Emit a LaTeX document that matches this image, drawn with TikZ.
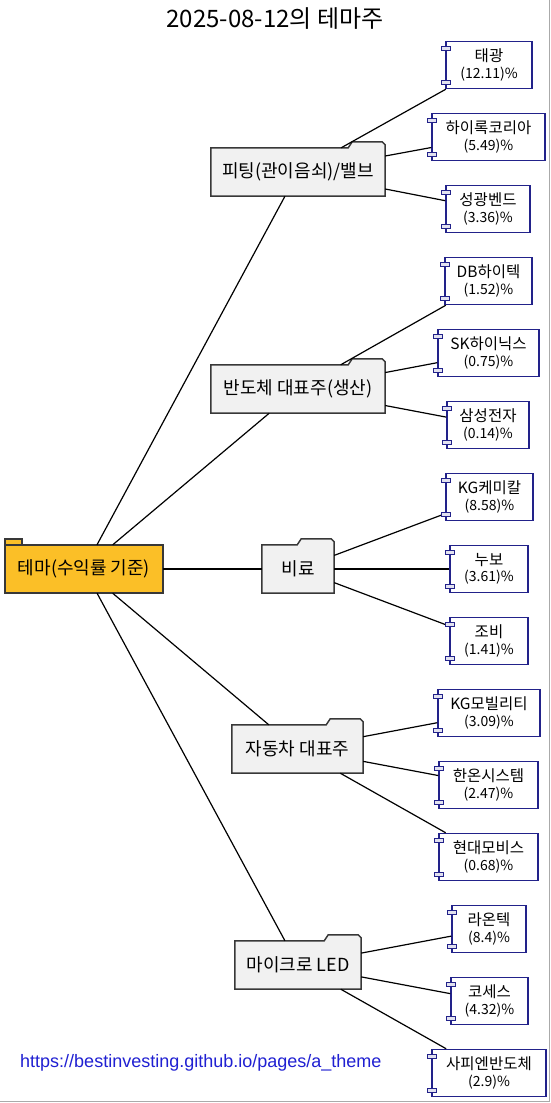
\documentclass[tikz,border=0pt]{standalone}
\usepackage{fontspec}
\setmainfont{Noto Sans CJK KR}
\newfontfamily\urlfont{Liberation Sans}
\usetikzlibrary{calc}
\definecolor{rootfill}{RGB}{251,191,39}
\definecolor{themefill}{RGB}{241,241,241}
\definecolor{boxline}{RGB}{56,56,56}
\definecolor{navy}{RGB}{34,34,138}
\definecolor{portfill}{RGB}{226,226,240}
\definecolor{urlblue}{RGB}{32,32,210}
\definecolor{framegrey}{RGB}{170,170,170}
\pgfdeclarelayer{bg}
\pgfdeclarelayer{paper}
\pgfsetlayers{paper,bg,main}
\tikzset{
  themebox/.style={inner sep=0pt, minimum height=48pt, font=\fontsize{18}{21}\selectfont},
  comp/.style={draw=navy, fill=white, line width=1.5pt, inner sep=0pt, minimum height=47pt, align=center, font=\fontsize{14}{16.5}\selectfont},
  link/.style={line width=1.2pt, black},
  port/.style={draw=navy, fill=portfill, line width=1pt},
  outline/.style={draw=boxline, line width=1.5pt, line join=miter},
}
\newcommand\stocklabel[2]{{\fontsize{15.5}{17}\selectfont #1}\\#2}
\newcommand\folderbox[2]{%
  \begin{pgfonlayer}{bg}
  \path[outline, fill=#2] (#1.south west) -- (#1.north west) -- ($(#1.north east)+(-37,0)$) -- ++(4,-6) -- ($(#1.north east)+(-3,-6)$) -- ($(#1.north east)+(0,-3)$) -- (#1.south east) -- cycle;
  \end{pgfonlayer}}
\newcommand\ports[1]{%
  \path[port] ($(#1.north west)+(-4,6)$) rectangle ++(9,4);
  \path[port] ($(#1.south west)+(-4,-9)$) rectangle ++(9,4);}
\begin{document}
\begin{tikzpicture}[x=1pt,y=-1pt]
\useasboundingbox (0,0) rectangle (551,1103);
\begin{pgfonlayer}{paper}
\fill[white] (0,0) rectangle (551,1103);
\draw[framegrey, line width=1.5pt] (549.5,0) -- (549.5,1101.5) -- (0,1101.5);
\end{pgfonlayer}

\node[font=\fontsize{24}{28}\selectfont] (title) at (275,19) {2025-08-12의 테마주};

% root
\node[themebox, minimum width=158pt] (root) at (84,569) {테마(수익률 기준)};
\begin{pgfonlayer}{bg}
\path[outline, fill=rootfill] ($(root.north west)+(0,-6)$) rectangle ($(root.north west)+(17,0)$);
\path[outline, fill=rootfill] (root.south west) rectangle (root.north east);
\end{pgfonlayer}

% themes
\node[themebox, minimum width=174pt] (t1) at (298,172) {피팅(관이음쇠)/밸브};
\node[themebox, minimum width=174pt] (t2) at (298,389) {반도체 대표주(생산)};
\node[themebox, minimum width=72pt] (t3) at (298,569) {비료};
\node[themebox, minimum width=131pt] (t4) at (297.5,749) {자동차 대표주};
\node[themebox, minimum width=126pt] (t5) at (298,965) {마이크로 LED};
\folderbox{t1}{themefill}
\folderbox{t2}{themefill}
\folderbox{t3}{themefill}
\folderbox{t4}{themefill}
\folderbox{t5}{themefill}

% components
\node[comp, minimum width=86pt]  (c1)  at (489,65)    {\stocklabel{태광}{(12.11)\%}};
\node[comp, minimum width=113pt] (c2)  at (488.5,137) {\stocklabel{하이록코리아}{(5.49)\%}};
\node[comp, minimum width=84pt]  (c3)  at (488,209)   {\stocklabel{성광벤드}{(3.36)\%}};
\node[comp, minimum width=87pt]  (c4)  at (488.5,281) {\stocklabel{DB하이텍}{(1.52)\%}};
\node[comp, minimum width=101pt] (c5)  at (488.5,353) {\stocklabel{SK하이닉스}{(0.75)\%}};
\node[comp, minimum width=82pt]  (c6)  at (488,425)   {\stocklabel{삼성전자}{(0.14)\%}};
\node[comp, minimum width=87pt]  (c7)  at (489.5,497) {\stocklabel{KG케미칼}{(8.58)\%}};
\node[comp, minimum width=78pt]  (c8)  at (489,569)   {\stocklabel{누보}{(3.61)\%}};
\node[comp, minimum width=78pt]  (c9)  at (489,641)   {\stocklabel{조비}{(1.41)\%}};
\node[comp, minimum width=102pt] (c10) at (489,713)   {\stocklabel{KG모빌리티}{(3.09)\%}};
\node[comp, minimum width=99pt]  (c11) at (488.5,785) {\stocklabel{한온시스템}{(2.47)\%}};
\node[comp, minimum width=99pt]  (c12) at (488.5,857) {\stocklabel{현대모비스}{(0.68)\%}};
\node[comp, minimum width=74pt]  (c13) at (489,929)   {\stocklabel{라온텍}{(8.4)\%}};
\node[comp, minimum width=77pt]  (c14) at (489.5,1001) {\stocklabel{코세스}{(4.32)\%}};
\node[comp, minimum width=114pt] (c15) at (489,1073)  {\stocklabel{사피엔반도체}{(2.9)\%}};

% connectors
\draw[link] (root) -- (t1);
\draw[link] (root) -- (t2);
\draw[link] (root) -- (t3);
\draw[link] (root) -- (t4);
\draw[link] (root) -- (t5);
\draw[link] (t1) -- (c1);
\draw[link] (t1) -- (c2);
\draw[link] (t1) -- (c3);
\draw[link] (t2) -- (c4);
\draw[link] (t2) -- (c5);
\draw[link] (t2) -- (c6);
\draw[link] (t3) -- (c7);
\draw[link] (t3) -- (c8);
\draw[link] (t3) -- (c9);
\draw[link] (t4) -- (c10);
\draw[link] (t4) -- (c11);
\draw[link] (t4) -- (c12);
\draw[link] (t5) -- (c13);
\draw[link] (t5) -- (c14);
\draw[link] (t5) -- (c15);

\ports{c1}\ports{c2}\ports{c3}\ports{c4}\ports{c5}
\ports{c6}\ports{c7}\ports{c8}\ports{c9}\ports{c10}
\ports{c11}\ports{c12}\ports{c13}\ports{c14}\ports{c15}

\node[anchor=west, text=urlblue, inner sep=0pt, font=\urlfont\fontsize{18}{21}\selectfont] (url) at (20,1063) {https://bestinvesting.github.io/pages/a\_theme};
\end{tikzpicture}
\end{document}
